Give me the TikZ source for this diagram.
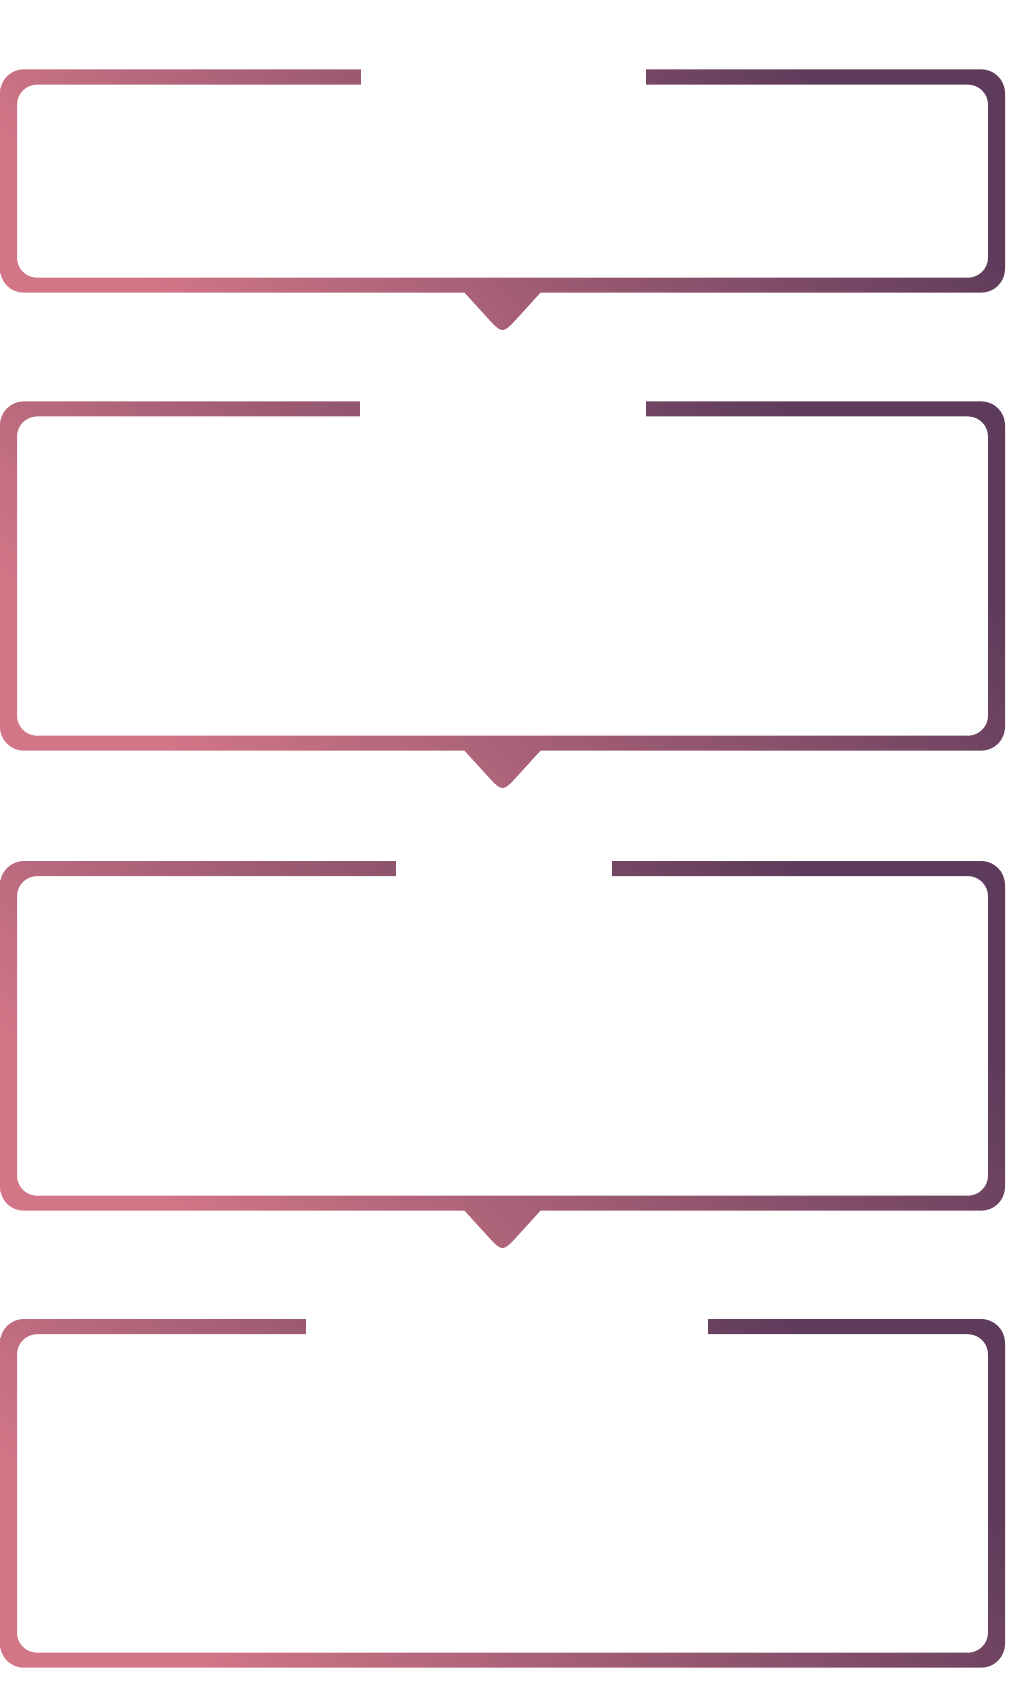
\documentclass[tikz,border=0pt]{standalone}
\definecolor{rosepink}{RGB}{210,118,135}
\definecolor{plumdark}{RGB}{94,59,91}
\begin{document}
\begin{tikzpicture}[x=1pt,y=-1pt,
    bandgrad/.style={bottom color=rosepink, top color=plumdark, shading angle=-45, even odd rule}]
            \useasboundingbox (0,0) rectangle (1016,1699);
            \shade[bandgrad] (24,69.3) -- (981,69.3) arc[start angle=-90,end angle=0,radius=24] -- (1005,268.7) arc[start angle=0,end angle=90,radius=24] -- (540.4,292.7) -- (518,317.3) .. controls (502.5,334.3) .. (487,317.3) -- (464.6,292.7) -- (24,292.7) arc[start angle=90,end angle=180,radius=24] -- (0,93.3) arc[start angle=180,end angle=270,radius=24] -- cycle [rounded corners=20] (17,84.6) rectangle (988,277.7);
            \fill[white] (361,67.5) rectangle (646,85.5);
            \shade[bandgrad] (24,401.3) -- (981,401.3) arc[start angle=-90,end angle=0,radius=24] -- (1005,726.7) arc[start angle=0,end angle=90,radius=24] -- (540.4,750.7) -- (518,775.3) .. controls (502.5,792.3) .. (487,775.3) -- (464.6,750.7) -- (24,750.7) arc[start angle=90,end angle=180,radius=24] -- (0,425.3) arc[start angle=180,end angle=270,radius=24] -- cycle [rounded corners=20] (17,416.4) rectangle (988,735.7);
            \fill[white] (360,399.5) rectangle (646,417.5);
            \shade[bandgrad] (24,861) -- (981,861) arc[start angle=-90,end angle=0,radius=24] -- (1005,1186.7) arc[start angle=0,end angle=90,radius=24] -- (540.4,1210.7) -- (518,1235.3) .. controls (502.5,1252.3) .. (487,1235.3) -- (464.6,1210.7) -- (24,1210.7) arc[start angle=90,end angle=180,radius=24] -- (0,885) arc[start angle=180,end angle=270,radius=24] -- cycle [rounded corners=20] (17,876.1) rectangle (988,1195.7);
            \fill[white] (396,859.5) rectangle (612,877);
            \shade[bandgrad] (24,1319) -- (981,1319) arc[start angle=-90,end angle=0,radius=24] -- (1005,1643.7) arc[start angle=0,end angle=90,radius=24] -- (24,1667.7) arc[start angle=90,end angle=180,radius=24] -- (0,1343) arc[start angle=180,end angle=270,radius=24] -- cycle [rounded corners=20] (17,1334.2) rectangle (988,1652.7);
            \fill[white] (306,1317.5) rectangle (708,1335);
\end{tikzpicture}
\end{document}
